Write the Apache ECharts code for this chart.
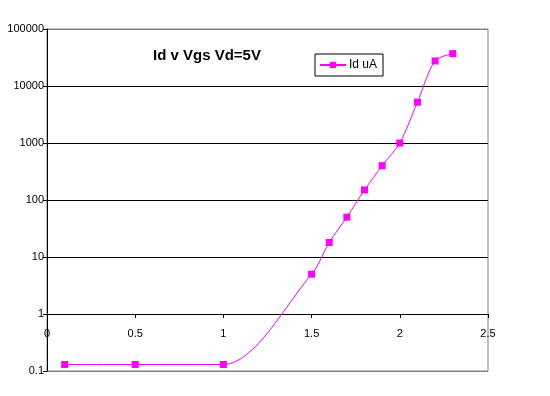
<!DOCTYPE html>
<html>
<head>
<meta charset="utf-8">
<script src="https://cdn.jsdelivr.net/npm/echarts@6/dist/echarts.min.js"></script>
<style>html,body{margin:0;padding:0;background:#fff;}#c{width:550px;height:396px;}</style>
</head>
<body>
<div id="c"></div>
<script>
var vgs = [0.1, 0.5, 1.0, 1.5, 1.6, 1.7, 1.8, 1.9, 2.0, 2.1, 2.2, 2.3];
var idUA = [0.13, 0.13, 0.13, 5, 18, 50, 150, 400, 1000, 5200, 27500, 37000];
var seriesName = 'Id uA';
var titleText = 'Id v Vgs Vd=5V';

var chart = echarts.init(document.getElementById('c'), null, {renderer: 'canvas'});
var font = 'Arial, "Liberation Sans", sans-serif';
chart.setOption({
  animation: false,
  backgroundColor: '#ffffff',
  title: {
    text: titleText,
    left: 153, top: 48,
    padding: 0,
    textStyle: {fontFamily: font, fontSize: 15, fontWeight: 'bold', color: '#000'}
  },
  legend: {
    left: 315, top: 54,
    padding: [5, 6, 5, 4],
    borderColor: '#000', borderWidth: 1,
    itemWidth: 26, itemHeight: 8,
    itemGap: 4,
    textStyle: {fontFamily: font, fontSize: 12, color: '#000', padding: [0, 0, 0, -2]},
    data: [seriesName]
  },
  grid: {
    left: 47, right: 62, top: 29, bottom: 25,
    show: true, borderColor: '#808080', borderWidth: 1, backgroundColor: 'transparent'
  },
  xAxis: {
    type: 'value', min: 0, max: 2.5, interval: 0.5,
    offset: -57,
    axisLine: {show: true, onZero: false, lineStyle: {color: '#000', width: 1}},
    axisTick: {show: true, length: 4, lineStyle: {color: '#000'}},
    axisLabel: {fontFamily: font, fontSize: 11, color: '#000', margin: 14, showMaxLabel: true, showMinLabel: true},
    splitLine: {show: false}
  },
  yAxis: {
    type: 'log', logBase: 10, min: 0.1, max: 100000,
    axisLine: {show: true, lineStyle: {color: '#000', width: 1}},
    axisTick: {show: true, length: 4, lineStyle: {color: '#000'}},
    axisLabel: {fontFamily: font, fontSize: 11, color: '#000', margin: 3,
      formatter: function (v) { return v < 1 ? String(Math.round(v * 10) / 10) : String(Math.round(v)); }},
    splitLine: {show: true, lineStyle: {color: ['#808080', '#000', '#000', '#000', '#000', '#000', '#808080'], width: 1}},
    minorTick: {show: false}
  },
  series: [{
    name: seriesName,
    type: 'line',
    data: vgs.map(function (x, i) { return [x, idUA[i]]; }),
    smooth: 0.3,
    symbol: 'rect',
    symbolSize: 7,
    itemStyle: {color: '#ff00ff'},
    lineStyle: {color: '#ff00ff', width: 1}
  }]
});
</script>
</body>
</html>
